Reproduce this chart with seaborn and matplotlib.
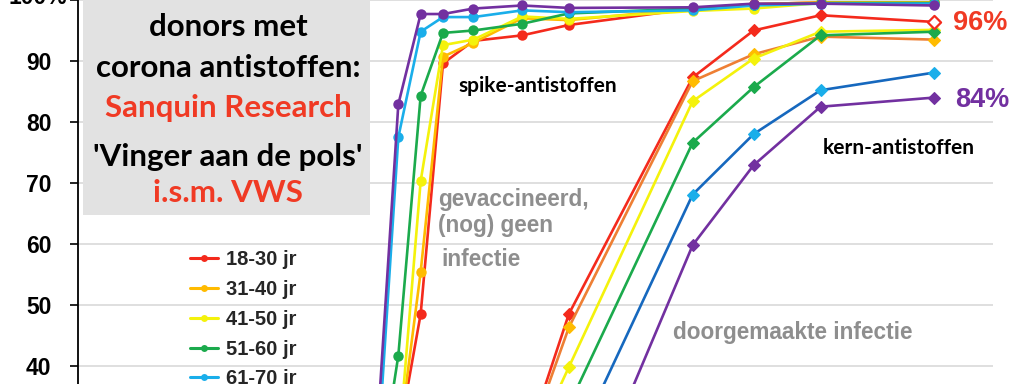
import matplotlib
matplotlib.use("Agg")
import matplotlib.pyplot as plt
from matplotlib.lines import Line2D
from matplotlib.patches import Rectangle
import seaborn as sns
import pandas as pd

# ---------------- data ----------------
groups = ["18-30 jr", "31-40 jr", "41-50 jr", "51-60 jr", "61-70 jr", "71+ jr"]

# measurement moments (days since first visible round)
days_spike = [0, 11, 22, 33, 48, 72, 95, 156, 186, 219, 275]
days_kern = [72, 95, 156, 186, 219, 275]

spike_1830 = [14, 28, 48.5, 89.6, 93.3, 94.2, 95.9, 98.6, 99.3, 99.6, 99.6]
spike_3140 = [13, 27, 55.4, 90.7, 93.0, 97.0, 96.7, 98.6, 99.3, 99.6, 99.6]
spike_4150 = [12, 26, 70.3, 92.6, 93.5, 97.3, 96.9, 98.2, 98.6, 99.5, 99.5]
spike_5160 = [18, 41.7, 84.3, 94.6, 95.0, 96.1, 97.8, 98.6, 99.2, 99.5, 99.5]
spike_6170 = [21, 77.5, 94.8, 97.2, 97.2, 98.3, 98.0, 98.3, 99.1, 99.4, 99.4]
spike_71 = [26, 82.9, 97.7, 97.7, 98.6, 99.1, 98.7, 98.8, 99.4, 99.4, 99.1]

kern_1830 = [25.4, 48.5, 87.3, 95.0, 97.5, 96.4]
kern_3140 = [24.8, 46.3, 86.7, 91.1, 94.0, 93.5]
kern_4150 = [23.2, 39.8, 83.4, 90.4, 94.8, 95.1]
kern_5160 = [17.0, 33.5, 76.6, 85.7, 94.2, 94.8]
kern_6170 = [8.0, 24.7, 68.1, 78.0, 85.2, 88.1]
kern_71 = [5.0, 11.7, 59.8, 72.9, 82.5, 84.0]

ytick_values = [40, 50, 60, 70, 80, 90, 100]
ytick_labels = ["40", "50", "60", "70", "80", "90", ""]

# ---------------- styling ----------------
spike_series = [spike_1830, spike_3140, spike_4150, spike_5160, spike_6170, spike_71]
kern_series = [kern_1830, kern_3140, kern_4150, kern_5160, kern_6170, kern_71]
marker_colors = ["#F42A1C", "#FFBB00", "#F4F20C", "#1BAA4C", "#1AAEEA", "#7230A0"]
kern_line_colors = ["#F42A1C", "#EE7F34", "#F4F20C", "#1BAA4C", "#1668BE", "#7230A0"]

sns.set_theme(style="white")
plt.rcParams["font.family"] = ["Liberation Sans", "DejaVu Sans"]

W, H = 1024, 384
fig = plt.figure(figsize=(W / 100, H / 100), dpi=100)
x0_px, x1_px = 78, 993
ax = fig.add_axes([x0_px / W, 0, (x1_px - x0_px) / W, 1])

def px_day(px):
    return (px - 376) / 2.03

def px_val(py):
    return 100 - (py + 3.9) / 6.16

ax.set_xlim(px_day(x0_px), px_day(x1_px))
ax.set_ylim(px_val(H), px_val(0))

# grid
for v in ytick_values:
    ax.axhline(v, color="#D9D9D9", lw=1.2, zorder=0)

# title box
ax.add_patch(Rectangle((px_day(83), px_val(213)), px_day(370) - px_day(83),
                       px_val(-10) - px_val(213),
                       facecolor="#E2E2E2", edgecolor="none", zorder=1))

# kern series (diamonds)
for vals, mc, lc in zip(kern_series, marker_colors, kern_line_colors):
    df = pd.DataFrame({"d": days_kern, "v": vals})
    sns.lineplot(data=df, x="d", y="v", ax=ax, color=lc, lw=1.9, marker="D",
                 markersize=6, markerfacecolor=mc, markeredgecolor=mc,
                 markeredgewidth=0.8, zorder=3, legend=False)

# spike series (circles)
for vals, mc in zip(spike_series, marker_colors):
    df = pd.DataFrame({"d": days_spike, "v": vals})
    sns.lineplot(data=df, x="d", y="v", ax=ax, color=mc, lw=1.9, marker="o",
                 markersize=7.5, markerfacecolor=mc, markeredgecolor=mc,
                 markeredgewidth=0, zorder=4, legend=False)

# open red diamond at the last kern point
sns.scatterplot(x=[days_kern[-1]], y=[kern_1830[-1]], ax=ax, marker="D", s=45,
                facecolor="white", edgecolor=marker_colors[0], linewidth=1.6,
                zorder=5, legend=False)

ax.set_xlabel("")
ax.set_ylabel("")
ax.set_xticks([])
ax.set_yticks(ytick_values)
ax.set_yticklabels(ytick_labels, fontsize=16.5, fontweight="bold", color="black")
ax.tick_params(axis="y", direction="out", length=6, width=1.2, color="black", pad=13, left=True)
for s in ["top", "right", "bottom"]:
    ax.spines[s].set_visible(False)
ax.spines["left"].set_color("black")
ax.spines["left"].set_linewidth(1.3)

# helper: figure pixel positions for texts
def fx(px):
    return px / W

def fy(py):
    return 1 - py / H

fig.text(fx(67), fy(3.5), "100%", ha="right", va="baseline",
         fontsize=16.5, fontweight="bold", color="black")

box_font = ["Lato", "DejaVu Sans"]
box_lines = [("donors met", 36, "black"),
             ("corona antistoffen:", 77, "black"),
             ("Sanquin Research", 117, "#F03A24"),
             ("'Vinger aan de pols'", 166, "black"),
             ("i.s.m. VWS", 202, "#F03A24")]
for txt, base, col in box_lines:
    fig.text(fx(228), fy(base), txt, ha="center", va="baseline", fontsize=22.5,
             fontweight="bold", color=col, family=box_font, zorder=6)

fig.text(fx(458), fy(92), "spike-antistoffen", ha="left", va="baseline", fontsize=15,
         fontweight="bold", color="black", family=box_font)
fig.text(fx(823), fy(154), "kern-antistoffen", ha="left", va="baseline", fontsize=15,
         fontweight="bold", color="black", family=box_font)

grey = "#8E8E8E"
fig.text(fx(438), fy(206), "gevaccineerd,", ha="left", va="baseline", fontsize=16.3,
         fontweight="bold", color=grey)
fig.text(fx(438), fy(232), "(nog) geen", ha="left", va="baseline", fontsize=16.3,
         fontweight="bold", color=grey)
fig.text(fx(441), fy(266), "infectie", ha="left", va="baseline", fontsize=16.3,
         fontweight="bold", color=grey)
fig.text(fx(673), fy(339), "doorgemaakte infectie", ha="left", va="baseline", fontsize=16.3,
         fontweight="bold", color=grey)

fig.text(fx(953), fy(30), "96%", ha="left", va="baseline", fontsize=19.5,
         fontweight="bold", color="#F03A24")
fig.text(fx(955), fy(107), "84%", ha="left", va="baseline", fontsize=19.5,
         fontweight="bold", color="#7230A0")

# legend
handles = [Line2D([0], [0], color=c, lw=2.2, marker="o", markersize=5, markeredgewidth=0)
           for c in marker_colors]
leg = fig.legend(handles, groups, loc="upper left", bbox_to_anchor=(fx(190), fy(250)),
                 frameon=False, borderpad=0, borderaxespad=0, handlelength=1.4,
                 handletextpad=0.4, labelspacing=0.54,
                 prop={"size": 14.5, "weight": "bold", "family": ["Liberation Sans"]})

fig.savefig("out.png", dpi=100)
